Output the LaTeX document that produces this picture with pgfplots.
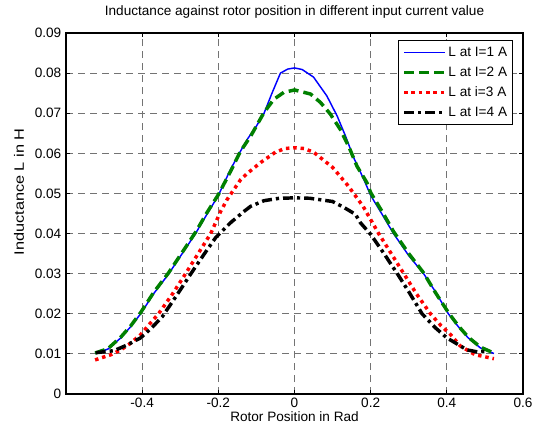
\documentclass[border=0pt]{standalone}
\usepackage{fontspec}
\setmainfont{Liberation Sans}
\usepackage{pgfplots}
\pgfplotsset{compat=1.18}
\begin{document}
\begin{tikzpicture}[font=\fontsize{10.2}{12}\selectfont]
\path[use as bounding box] (-49.5pt,-27pt) rectangle (351pt,295.5pt);
\begin{axis}[
  at={(0,0)}, anchor=south west,
  scale only axis, width=342.75pt, height=270.75pt,
  xmin=-0.6, xmax=0.6, ymin=0, ymax=0.09,
  scaled x ticks=false, scaled y ticks=false,
  xtick={-0.4,-0.2,0,0.2,0.4,0.6},
  xticklabels={-0.4,-0.2,0,0.2,0.4,0.6},
  ytick={0,0.01,0.02,0.03,0.04,0.05,0.06,0.07,0.08,0.09},
  yticklabels={0,0.01,0.02,0.03,0.04,0.05,0.06,0.07,0.08,0.09},
  /pgf/number format/assume math mode=true,
  tick label style={font=\fontsize{10.2}{12}\selectfont},
  xticklabel style={inner sep=2.5pt},
  tick align=inside, major tick length=3pt,
  tick style={black, line width=0.6pt},
  axis line style={black, line width=1pt},
  grid=major,
  major grid style={black!55, line width=0.7pt, dash pattern=on 5.5pt off 3.5pt},
  title={Inductance against rotor position in different input current value},
  title style={at={(axis description cs:0.5,1.027)}, anchor=base, font=\fontsize{10.2}{12}\selectfont},
  xlabel={Rotor Position in Rad},
  xlabel style={at={(axis description cs:0.5,-0.077)}, anchor=base, font=\fontsize{10.2}{12}\selectfont},
  ylabel={\scalebox{1.2}[1]{Inductance L in H}},
  ylabel style={at={(axis description cs:-0.103,0.56)}, anchor=center, font=\fontsize{10.2}{12}\selectfont},
  legend cell align=left,
  legend style={at={(0.978,0.981)}, anchor=north east, draw=black, line width=0.8pt,
    font=\fontsize{10.2}{12}\selectfont, row sep=3pt, inner xsep=3pt, inner ysep=3pt,
    nodes={inner sep=1pt, text height=8pt, text depth=2pt}},
  legend image code/.code={\draw[#1] (0pt,0pt) -- (31pt,0pt);},
]
\addplot[blue, line width=1.1pt] coordinates {
(-0.5236,0.0101) (-0.49,0.0112) (-0.456,0.0140) (-0.43,0.0168) (-0.404,0.0200) (-0.37,0.0250) (-0.33,0.0300) (-0.295,0.0350) (-0.26,0.0400) (-0.23,0.0448) (-0.2,0.0495) (-0.168,0.0560) (-0.145,0.0600) (-0.124,0.0635) (-0.1,0.0668) (-0.08,0.0700) (-0.06,0.0748) (-0.037,0.0800) (-0.018,0.0810) (0,0.0813) (0.02,0.0809) (0.05,0.0790) (0.085,0.0743) (0.112,0.0693) (0.134,0.0643) (0.155,0.0590) (0.182,0.0535) (0.2,0.0495) (0.23,0.0448) (0.26,0.0400) (0.30,0.0345) (0.339,0.0300) (0.37,0.0255) (0.404,0.0200) (0.43,0.0168) (0.456,0.0140) (0.488,0.0115) (0.5236,0.0101)
};
\addlegendentry{L at I=1 A}
\addplot[color={rgb,255:red,0;green,128;blue,0}, line width=2.6pt, dash pattern=on 7.5pt off 3.8pt] coordinates {
(-0.5236,0.0102) (-0.49,0.0113) (-0.456,0.0142) (-0.43,0.0170) (-0.404,0.0203) (-0.37,0.0253) (-0.33,0.0303) (-0.295,0.0353) (-0.26,0.0403) (-0.23,0.0452) (-0.2,0.0497) (-0.168,0.0555) (-0.142,0.0605) (-0.115,0.0643) (-0.08,0.0702) (-0.054,0.0735) (-0.028,0.0752) (0,0.0758) (0.042,0.0748) (0.068,0.0727) (0.094,0.0698) (0.12,0.0660) (0.142,0.0618) (0.164,0.0568) (0.19,0.0527) (0.2,0.0502) (0.23,0.0455) (0.26,0.0405) (0.30,0.0350) (0.339,0.0302) (0.37,0.0253) (0.404,0.0203) (0.43,0.0170) (0.456,0.0142) (0.488,0.0117) (0.5236,0.0102)
};
\addlegendentry{L at I=2 A}
\addplot[red, line width=2.6pt, dash pattern=on 2.6pt off 2.9pt] coordinates {
(-0.5236,0.0085) (-0.482,0.0098) (-0.456,0.0110) (-0.43,0.0127) (-0.404,0.0148) (-0.38,0.0175) (-0.357,0.0200) (-0.32,0.0250) (-0.286,0.0300) (-0.253,0.0350) (-0.22,0.0400) (-0.194,0.0455) (-0.177,0.0485) (-0.141,0.0535) (-0.124,0.0550) (-0.089,0.0577) (-0.05,0.0603) (-0.025,0.0612) (0,0.0614) (0.025,0.0612) (0.05,0.0603) (0.1,0.0565) (0.14,0.0520) (0.18,0.0468) (0.221,0.0400) (0.254,0.0350) (0.287,0.0300) (0.32,0.0250) (0.357,0.0200) (0.385,0.0170) (0.41,0.0148) (0.435,0.0120) (0.474,0.0098) (0.5236,0.0088)
};
\addlegendentry{L at i=3 A}
\addplot[black, line width=2.6pt, dash pattern=on 7.5pt off 3pt on 2.4pt off 3pt] coordinates {
(-0.522,0.0103) (-0.474,0.0108) (-0.44,0.0122) (-0.404,0.0140) (-0.375,0.0165) (-0.347,0.0193) (-0.31,0.0245) (-0.272,0.0300) (-0.24,0.0345) (-0.207,0.0390) (-0.168,0.0427) (-0.133,0.0455) (-0.115,0.0468) (-0.08,0.0482) (-0.04,0.0488) (0,0.0489) (0.04,0.0488) (0.1,0.0480) (0.13,0.0465) (0.16,0.0448) (0.173,0.0427) (0.2,0.0398) (0.235,0.0350) (0.27,0.0300) (0.30,0.0255) (0.335,0.0200) (0.37,0.0165) (0.40,0.0140) (0.453,0.0110) (0.48,0.0105) (0.505,0.0106)
};
\addlegendentry{L at I=4 A}
\end{axis}
\end{tikzpicture}
\end{document}
